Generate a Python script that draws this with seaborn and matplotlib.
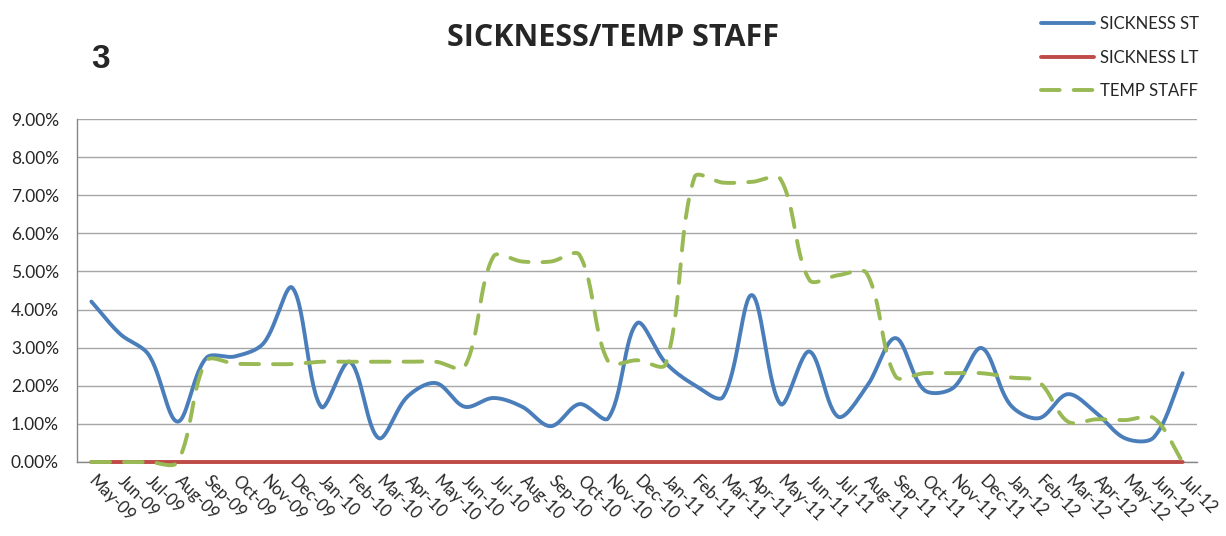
import numpy as np
import pandas as pd
import matplotlib
matplotlib.use("Agg")
import matplotlib.pyplot as plt
from matplotlib.ticker import FuncFormatter, FixedLocator
import seaborn as sns

# data (percent)
months = ["May-09", "Jun-09", "Jul-09", "Aug-09", "Sep-09", "Oct-09", "Nov-09", "Dec-09",
          "Jan-10", "Feb-10", "Mar-10", "Apr-10", "May-10", "Jun-10", "Jul-10", "Aug-10",
          "Sep-10", "Oct-10", "Nov-10", "Dec-10", "Jan-11", "Feb-11", "Mar-11", "Apr-11",
          "May-11", "Jun-11", "Jul-11", "Aug-11", "Sep-11", "Oct-11", "Nov-11", "Dec-11",
          "Jan-12", "Feb-12", "Mar-12", "Apr-12", "May-12", "Jun-12", "Jul-12"]
sickness_st = [4.21, 3.36, 2.81, 1.06, 2.73, 2.77, 3.12, 4.57, 1.45, 2.63, 0.63, 1.71, 2.07,
               1.45, 1.68, 1.45, 0.94, 1.52, 1.15, 3.64, 2.60, 2.02, 1.71, 4.38, 1.52, 2.90,
               1.19, 1.98, 3.25, 1.89, 1.94, 2.99, 1.50, 1.15, 1.78, 1.28, 0.62, 0.65, 2.33]
sickness_lt = [0.0, 0.0, 0.0, 0.0, 0.0, 0.0, 0.0, 0.0, 0.0, 0.0, 0.0, 0.0, 0.0,
               0.0, 0.0, 0.0, 0.0, 0.0, 0.0, 0.0, 0.0, 0.0, 0.0, 0.0, 0.0, 0.0,
               0.0, 0.0, 0.0, 0.0, 0.0, 0.0, 0.0, 0.0, 0.0, 0.0, 0.0, 0.0, 0.0]
temp_staff = [0.0, 0.0, 0.0, 0.0, 2.65, 2.58, 2.57, 2.57, 2.63, 2.63, 2.63, 2.63, 2.63,
              2.50, 5.39, 5.26, 5.26, 5.43, 2.63, 2.67, 2.57, 7.47, 7.33, 7.35, 7.42, 4.78,
              4.90, 4.95, 2.25, 2.33, 2.33, 2.33, 2.22, 2.10, 1.06, 1.12, 1.10, 1.15, 0.0]
y_ticks = [0, 1, 2, 3, 4, 5, 6, 7, 8, 9]

# pixel size of one category / one percent, used only for the smoothing shape
SX, SY = 28.72, 38.1


def smooth(vals, n=30):
    # Excel-like smoothed line: cubic Bezier pieces whose handles scale with segment lengths
    pts = np.column_stack([np.arange(len(vals)) * SX, np.asarray(vals, float) * SY])
    p = np.vstack([pts[0], pts, pts[-1]])
    t = np.linspace(0, 1, n, endpoint=False)[:, None]
    out = []
    for i in range(len(pts) - 1):
        p0, p1, p2, p3 = p[i:i + 4]
        d01 = np.hypot(*(p1 - p0))
        d12 = np.hypot(*(p2 - p1))
        d23 = np.hypot(*(p3 - p2))
        c1 = p1 + (p2 - p0) * d12 / (d01 + d12) / 3
        c2 = p2 - (p3 - p1) * d12 / (d12 + d23) / 3
        b = (1 - t) ** 3 * p1 + 3 * (1 - t) ** 2 * t * c1 + 3 * (1 - t) * t ** 2 * c2 + t ** 3 * p2
        out.append(b)
    out.append(pts[-1:])
    out = np.vstack(out)
    return out[:, 0] / SX, out[:, 1] / SY


sns.set_style("white")
plt.rcParams["font.family"] = ["Lato", "DejaVu Sans"]

fig = plt.figure(figsize=(12.26, 5.36), dpi=100)
ax = fig.add_axes([77 / 1226, 1 - 462 / 536, 1120 / 1226, 343 / 536])

series = [("SICKNESS ST", sickness_st, "#4a7ebb", None),
          ("SICKNESS LT", sickness_lt, "#be4b48", None),
          ("TEMP STAFF", temp_staff, "#98b954", (4.8, 3.6))]
for name, vals, color, dash in series:
    xs, ys = smooth(vals)
    df = pd.DataFrame({"x": xs, "y": ys})
    sns.lineplot(data=df, x="x", y="y", ax=ax, color=color, linewidth=2.8,
                 label=name, sort=False)
    ln = ax.lines[-1]
    if dash is not None:
        ln.set_dashes(dash)
    ln.set_solid_capstyle("round")
    ln.set_dash_capstyle("round")
    ln.set_clip_on(False)
    ln.set_zorder(3)

ax.set_xlim(-0.5, len(months) - 0.5)
ax.set_ylim(0, 9)
ax.set_yticks(y_ticks)
ax.yaxis.set_major_formatter(FuncFormatter(lambda v, p: f"{v:.2f}%"))
ax.yaxis.grid(True, color="#a6a6a6", linewidth=1.0)
ax.set_axisbelow(True)
ax.set_xticks(range(len(months)))
ax.set_xticklabels(months, rotation=-45, ha="left", va="center", rotation_mode="anchor")
ax.xaxis.set_minor_locator(FixedLocator(np.arange(-0.5, len(months), 1.0)))
ax.tick_params(axis="x", which="major", length=0, pad=12, labelsize=12)
ax.tick_params(axis="x", which="minor", length=5, color="#868686", width=1)
ax.tick_params(axis="y", which="major", length=5, color="#868686", width=1, labelsize=12.5, pad=8)
ax.set_xlabel("")
ax.set_ylabel("")
for side in ["top", "right"]:
    ax.spines[side].set_visible(False)
for side in ["left", "bottom"]:
    ax.spines[side].set_color("#868686")
    ax.spines[side].set_linewidth(1)

handles, labels = ax.get_legend_handles_labels()
ax.get_legend().remove()
fig.legend(handles, labels, loc="upper left", bbox_to_anchor=(1026 / 1226, 1 - 1 / 536),
           frameon=False, fontsize=12, handlelength=3.2, labelspacing=1.05, handletextpad=0.35)

fig.text(613 / 1226, 1 - 38 / 536, "SICKNESS/TEMP STAFF", ha="center", va="center",
         fontsize=22, fontweight="bold", family=["Open Sans", "DejaVu Sans"])
fig.text(101 / 1226, 1 - 60 / 536, "3", ha="center", va="center", fontsize=24,
         fontweight="bold", family=["Liberation Sans", "DejaVu Sans"])

fig.savefig("out.png", dpi=100)
